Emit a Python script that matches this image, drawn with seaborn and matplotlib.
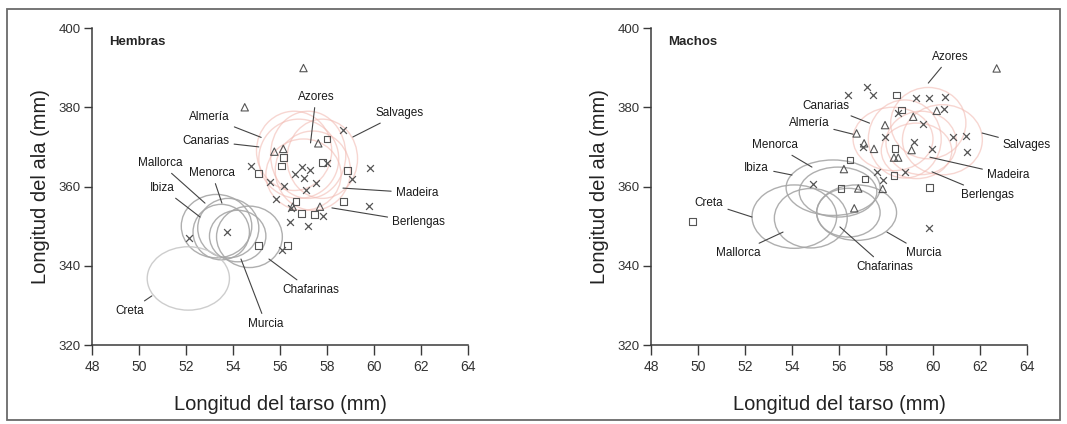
import matplotlib
matplotlib.use("Agg")
import matplotlib.pyplot as plt
from matplotlib.patches import Ellipse, Rectangle
import seaborn as sns
import pandas as pd

# ---- data ----
# Hembras: individual birds (three marker groups)
hem_tri_x = [57.0, 54.5, 55.76, 56.14, 57.63, 56.54, 57.7]
hem_tri_y = [389.9, 380.0, 368.8, 369.5, 370.9, 354.9, 354.9]
hem_sq_x = [56.15, 56.07, 58.0, 55.09, 57.81, 58.88, 56.68, 56.91, 57.47, 58.71, 55.09, 56.31]
hem_sq_y = [367.3, 365.2, 372.0, 363.2, 366.1, 364.0, 356.3, 353.1, 353.0, 356.3, 345.1, 345.1]
hem_x_x = [58.67, 54.77, 56.92, 57.28, 56.64, 57.03, 57.98, 59.06, 59.83, 55.57, 56.18,
           57.53, 57.10, 55.82, 56.48, 57.81, 59.80, 56.41, 57.18, 53.73, 52.14, 56.07]
hem_x_y = [374.3, 365.2, 365.0, 364.2, 363.1, 362.2, 365.9, 361.9, 364.6, 361.2, 360.1,
           361.0, 359.0, 356.9, 354.5, 352.6, 355.1, 351.1, 350.0, 348.4, 347.1, 344.1]

# Machos
mac_tri_x = [62.71, 60.16, 59.16, 57.96, 56.75, 59.09, 57.07, 57.49, 58.34, 58.52, 56.21, 56.82, 57.86, 56.65]
mac_tri_y = [389.8, 379.1, 377.6, 375.5, 373.4, 369.2, 370.9, 369.5, 367.3, 367.3, 364.4, 359.5, 359.4, 354.5]
mac_sq_x = [58.46, 58.67, 58.38, 56.47, 58.34, 57.11, 56.09, 59.85, 49.77]
mac_sq_y = [383.1, 379.3, 369.6, 366.7, 362.7, 361.9, 359.5, 359.7, 351.1]
mac_x_x = [56.40, 57.18, 57.46, 59.28, 59.85, 60.51, 58.52, 60.47, 59.59, 57.96, 60.87,
           61.40, 61.43, 59.19, 59.97, 57.03, 57.63, 57.89, 58.81, 54.91, 59.85]
mac_x_y = [383.1, 385.2, 383.1, 382.3, 382.3, 382.7, 378.5, 379.6, 375.9, 372.6, 372.6,
           372.8, 368.6, 371.3, 369.5, 370.0, 363.6, 361.6, 363.6, 360.6, 349.6]

# population ellipses (centre, width, height)
pops = ["Almería", "Canarias", "Azores", "Salvages", "Madeira", "Berlengas",
        "Mallorca", "Menorca", "Ibiza", "Chafarinas", "Murcia", "Creta"]
atlantic = ["Almería", "Canarias", "Azores", "Salvages", "Madeira", "Berlengas"]

hem_ell_cx = [56.6, 56.8, 57.2, 57.8, 57.4, 57.0, 53.3, 53.8, 53.5, 54.7, 54.2, 52.1]
hem_ell_cy = [369.0, 367.0, 368.0, 367.0, 364.0, 363.0, 350.0, 349.5, 348.5, 347.3, 347.5, 336.8]
hem_ell_w = [3.2, 3.4, 3.2, 3.0, 3.2, 3.2, 3.0, 2.6, 2.4, 2.8, 2.4, 3.5]
hem_ell_h = [20, 20, 22, 20, 20, 18, 16, 15, 14, 15.5, 13, 16]

mac_ell_cx = [58.3, 58.8, 59.8, 60.4, 59.5, 59.3, 54.8, 55.75, 55.96, 56.4, 56.75, 54.1]
mac_ell_cy = [372.0, 372.0, 376.0, 371.8, 371.0, 369.0, 352.0, 359.7, 358.6, 353.4, 353.4, 352.4]
mac_ell_w = [3.4, 3.1, 3.2, 3.4, 3.0, 3.0, 3.1, 4.0, 3.3, 2.7, 3.4, 3.6]
mac_ell_h = [16, 19.7, 18, 17.7, 16, 14, 15, 14, 12.6, 12.3, 14, 16]

# labels: text anchor and leader-line target
hem_lab = {
    "Azores": ((57.53, 382.6), (57.3, 371.0)),
    "Almería": ((53.0, 377.5), (55.2, 372.4)),
    "Canarias": ((52.85, 371.5), (55.1, 370.0)),
    "Salvages": ((61.1, 378.5), (59.1, 372.5)),
    "Mallorca": ((50.9, 365.9), (52.81, 355.8)),
    "Menorca": ((53.1, 363.4), (53.53, 355.8)),
    "Ibiza": ((51.0, 359.6), (52.6, 352.3)),
    "Madeira": ((61.83, 358.4), (58.68, 359.6)),
    "Berlengas": ((61.9, 351.0), (58.21, 354.6)),
    "Chafarinas": ((57.3, 333.9), (55.53, 341.7)),
    "Creta": ((49.6, 328.6), (50.55, 332.4)),
    "Murcia": ((55.4, 325.3), (54.34, 341.7)),
}
mac_lab = {
    "Azores": ((60.72, 392.7), (59.8, 386.1)),
    "Canarias": ((55.45, 380.3), (57.3, 376.0)),
    "Almería": ((54.72, 376.0), (56.6, 373.2)),
    "Menorca": ((53.28, 370.4), (54.85, 364.9)),
    "Ibiza": ((52.5, 364.7), (54.0, 362.9)),
    "Creta": ((50.47, 355.8), (52.3, 352.3)),
    "Mallorca": ((51.7, 343.2), (53.62, 348.5)),
    "Chafarinas": ((57.96, 339.7), (56.04, 349.8)),
    "Murcia": ((59.6, 343.2), (58.04, 348.5)),
    "Madeira": ((63.2, 362.9), (59.87, 367.4)),
    "Berlengas": ((62.3, 357.9), (59.96, 363.7)),
    "Salvages": ((64.0, 370.5), (62.09, 373.5)),
}

sns.set_theme(style="white")
plt.rcParams['font.family'] = ['Liberation Sans', 'DejaVu Sans']

DARK = "#3a3a3a"
MARK = "#555555"


def draw_panel(ax, title, tri, sq, xx, ell, labels):
    cx, cy, w, h = ell
    for name, a, b, c, d in zip(pops, cx, cy, w, h):
        if name in atlantic:
            col, alpha = "#f2bbb3", 0.6
        elif name == "Creta" and title == "Hembras":
            col, alpha = "#c8c8c8", 0.9
        else:
            col, alpha = "#a6a6a6", 0.9
        ax.add_patch(Ellipse((a, b), c, d, fill=False, edgecolor=col, lw=1.0, alpha=alpha))

    sns.scatterplot(x=tri[0], y=tri[1], marker="^", s=28, facecolor="none",
                    edgecolor=MARK, linewidth=0.8, ax=ax, zorder=3)
    sns.scatterplot(x=sq[0], y=sq[1], marker="s", s=24, facecolor="none",
                    edgecolor=MARK, linewidth=0.8, ax=ax, zorder=3)
    sns.scatterplot(x=xx[0], y=xx[1], marker="x", s=24, color=MARK,
                    linewidth=0.9, ax=ax, zorder=3)

    for name, (txt, tgt) in labels.items():
        ax.annotate(name, xy=tgt, xytext=txt, ha="center", va="center",
                    fontsize=8.5, color="#1a1a1a",
                    arrowprops=dict(arrowstyle="-", color="#444444", lw=0.8,
                                    shrinkA=1, shrinkB=0))

    ax.text(48.75, 396.5, title, fontsize=9.5, fontweight="bold", ha="left", va="center")

    ax.set_xlim(48, 64)
    ax.set_ylim(320, 400)
    ax.set_xticks(range(48, 65, 2))
    ax.set_yticks(range(320, 401, 20))
    sns.despine(ax=ax)
    for sp in ("left", "bottom"):
        ax.spines[sp].set_color(DARK)
        ax.spines[sp].set_linewidth(1.1)
    ax.tick_params(axis="x", direction="out", length=7, width=1, color=DARK,
                   labelsize=10, labelcolor="#333333", pad=4, bottom=True)
    ax.tick_params(axis="y", direction="out", length=6, width=1, color=DARK,
                   labelsize=9.5, labelcolor="#333333", pad=2, left=True)
    ax.set_xlabel("Longitud del tarso (mm)", fontsize=14.5, labelpad=15, color="#222222")
    ax.set_ylabel("Longitud del ala (mm)", fontsize=14.5, labelpad=6, color="#222222")


fig = plt.figure(figsize=(10.67, 4.24), dpi=100)
ax1 = fig.add_axes([0.0862, 0.1863, 0.3524, 0.7476])
ax2 = fig.add_axes([0.6101, 0.1863, 0.3524, 0.7476])

draw_panel(ax1, "Hembras", (hem_tri_x, hem_tri_y), (hem_sq_x, hem_sq_y), (hem_x_x, hem_x_y),
           (hem_ell_cx, hem_ell_cy, hem_ell_w, hem_ell_h), hem_lab)
draw_panel(ax2, "Machos", (mac_tri_x, mac_tri_y), (mac_sq_x, mac_sq_y), (mac_x_x, mac_x_y),
           (mac_ell_cx, mac_ell_cy, mac_ell_w, mac_ell_h), mac_lab)

# thin frame around the whole figure
fig.patches.append(Rectangle((7 / 1067, 4 / 424), 1053 / 1067, 411 / 424,
                             transform=fig.transFigure, fill=False,
                             edgecolor="#6a6a6a", lw=1.3))

fig.savefig("out.png", dpi=100)
